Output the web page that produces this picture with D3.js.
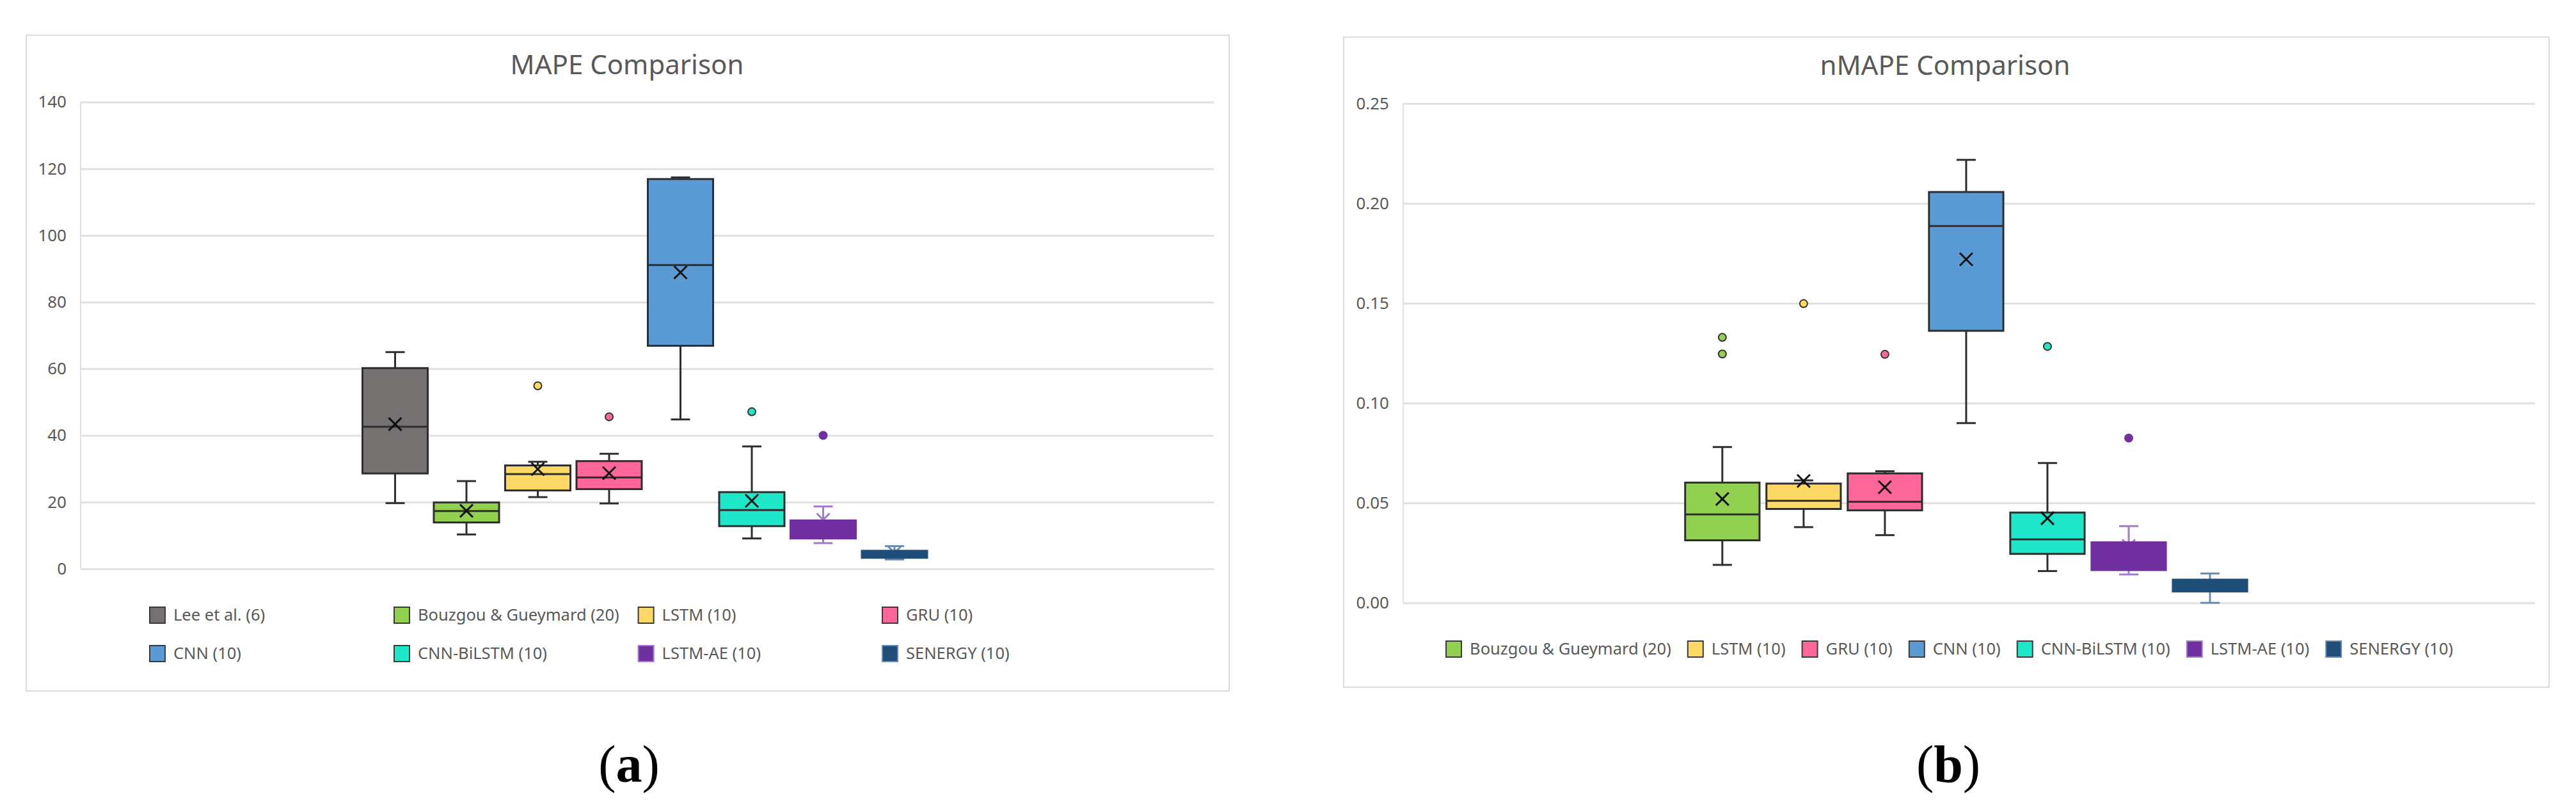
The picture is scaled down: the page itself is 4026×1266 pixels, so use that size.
<!DOCTYPE html>
<html><head><meta charset="utf-8">
<script src="https://cdn.jsdelivr.net/npm/d3@7"></script>
<style>
body{margin:0;background:#fff;}
svg{display:block;font-family:"Noto Sans",sans-serif;}
</style>
</head><body>
<svg id="chart" width="4026" height="1266"></svg>
<script>
// ---------------- DATA ----------------
const mapeSeries = ["Lee et al. (6)", "Bouzgou & Gueymard (20)", "LSTM (10)", "GRU (10)", "CNN (10)", "CNN-BiLSTM (10)", "LSTM-AE (10)", "SENERGY (10)"];
const mapeMin    = [19.7, 10.3, 21.5, 19.6, 44.8,  9.1,  7.7, 2.8];
const mapeQ1     = [28.6, 13.9, 23.5, 23.9, 66.9, 12.8,  9.1, 3.3];
const mapeMedian = [42.6, 17.3, 28.4, 27.4, 91.1, 17.6, 12.0, 4.4];
const mapeQ3     = [60.2, 19.9, 31.0, 32.3, 116.9, 23.0, 14.5, 5.4];
const mapeMax    = [65.0, 26.3, 32.1, 34.5, 117.4, 36.7, 18.7, 6.8];
const mapeMean   = [43.4, 17.4, 29.9, 28.7, 88.9, 20.4, 14.7, 4.8];
const mapeOutliers = [[], [], [54.9], [45.6], [], [47.1], [40.0], []];
const mapeTicks  = [0, 20, 40, 60, 80, 100, 120, 140];

const nmapeSeries = ["Bouzgou & Gueymard (20)", "LSTM (10)", "GRU (10)", "CNN (10)", "CNN-BiLSTM (10)", "LSTM-AE (10)", "SENERGY (10)"];
const nmapeMin    = [0.0190, 0.0379, 0.0339, 0.0900, 0.0159, 0.0142, 0.0000];
const nmapeQ1     = [0.0313, 0.0470, 0.0463, 0.1362, 0.0245, 0.0164, 0.0057];
const nmapeMedian = [0.0443, 0.0511, 0.0506, 0.1887, 0.0318, 0.0230, 0.0090];
const nmapeQ3     = [0.0602, 0.0597, 0.0648, 0.2057, 0.0452, 0.0303, 0.0116];
const nmapeMax    = [0.0780, 0.0613, 0.0659, 0.2218, 0.0700, 0.0384, 0.0147];
const nmapeMean   = [0.0520, 0.0610, 0.0579, 0.1720, 0.0423, 0.0285, 0.0087];
const nmapeOutliers = [[0.1329, 0.1246], [0.1498], [0.1244], [], [0.1284], [0.0825], []];
const nmapeTicks  = [0, 0.05, 0.10, 0.15, 0.20, 0.25];

// ---------------- STYLES ----------------
const fillColor = {
  "Lee et al. (6)": "#767171",
  "Bouzgou & Gueymard (20)": "#92d050",
  "LSTM (10)": "#ffd966",
  "GRU (10)": "#ff6699",
  "CNN (10)": "#5b9bd5",
  "CNN-BiLSTM (10)": "#1ee6c9",
  "LSTM-AE (10)": "#7030a0",
  "SENERGY (10)": "#1f4e79"
};
const boxStroke = { "LSTM-AE (10)": "#7030a0", "SENERGY (10)": "#1f4e79" };
const lineStroke = { "LSTM-AE (10)": "#a47ccf", "SENERGY (10)": "#6a8cb4" };
const DARK = "#2e2e2e";
const GRID = "#e0e0e0";
const TEXT = "#595959";

const svg = d3.select("#chart");

function drawPanel(cfg) {
  const g = svg.append("g");
  g.append("rect").attr("x", cfg.frame[0]).attr("y", cfg.frame[1])
    .attr("width", cfg.frame[2] - cfg.frame[0]).attr("height", cfg.frame[3] - cfg.frame[1])
    .attr("fill", "#fff").attr("stroke", "#dcdcdc").attr("stroke-width", 2);

  g.append("text").attr("x", cfg.titleX).attr("y", cfg.titleY)
    .attr("text-anchor", "middle").attr("font-size", 42).attr("fill", TEXT).text(cfg.title);

  const y = d3.scaleLinear().domain([cfg.ticks[0], cfg.ticks[cfg.ticks.length - 1]])
    .range([cfg.plotBottom, cfg.plotTop]);
  const plotW = cfg.plotRight - cfg.plotLeft;

  const axis = d3.axisLeft(y).tickValues(cfg.ticks).tickSize(-plotW).tickPadding(22)
    .tickFormat(cfg.fmt);
  const ag = g.append("g").attr("transform", `translate(${cfg.plotLeft},0)`).call(axis);
  ag.select(".domain").remove();
  ag.selectAll(".tick line").attr("stroke", GRID).attr("stroke-width", 3);
  ag.selectAll(".tick text").attr("fill", TEXT).attr("font-size", 26)
    .attr("font-family", "'Noto Sans', sans-serif");
  g.append("line").attr("x1", cfg.plotLeft).attr("x2", cfg.plotLeft)
    .attr("y1", cfg.plotTop).attr("y2", cfg.plotBottom).attr("stroke", GRID).attr("stroke-width", 2);

  const x = d3.scaleBand().domain(cfg.series).range(cfg.groupRange)
    .paddingInner(0.085).paddingOuter(0.0425);
  const bw = x.bandwidth();
  const capW = 30;

  const rows = cfg.series.map((s, i) => ({
    s, min: cfg.min[i], q1: cfg.q1[i], med: cfg.median[i], q3: cfg.q3[i],
    max: cfg.max[i], mean: cfg.mean[i], out: cfg.outliers[i]
  }));

  const bg = g.selectAll(".bx").data(rows).enter().append("g").attr("class", "bx");
  const cx = d => x(d.s) + bw / 2;
  const lc = d => lineStroke[d.s] || DARK;
  const bc = d => boxStroke[d.s] || DARK;
  const m = 10;
  const xPath = d => {
    const X = cx(d), Y = y(d.mean);
    return `M${X - m},${Y - m}L${X + m},${Y + m}M${X - m},${Y + m}L${X + m},${Y - m}`;
  };

  // whiskers
  bg.append("line").attr("x1", cx).attr("x2", cx).attr("y1", d => y(d.q3)).attr("y2", d => y(d.max))
    .attr("stroke", lc).attr("stroke-width", 3);
  bg.append("line").attr("x1", cx).attr("x2", cx).attr("y1", d => y(d.q1)).attr("y2", d => y(d.min))
    .attr("stroke", lc).attr("stroke-width", 3);
  bg.append("line").attr("x1", d => cx(d) - capW / 2).attr("x2", d => cx(d) + capW / 2)
    .attr("y1", d => y(d.max)).attr("y2", d => y(d.max)).attr("stroke", lc).attr("stroke-width", 3);
  bg.append("line").attr("x1", d => cx(d) - capW / 2).attr("x2", d => cx(d) + capW / 2)
    .attr("y1", d => y(d.min)).attr("y2", d => y(d.min)).attr("stroke", lc).attr("stroke-width", 3);

  // mean markers that sit behind solid boxes (light-whisker series)
  bg.filter(d => lineStroke[d.s]).append("path").attr("d", xPath)
    .attr("stroke", lc).attr("stroke-width", 3).attr("fill", "none");

  // box
  bg.append("rect").attr("x", d => x(d.s)).attr("width", bw)
    .attr("y", d => y(d.q3)).attr("height", d => y(d.q1) - y(d.q3))
    .attr("fill", d => fillColor[d.s]).attr("stroke", bc).attr("stroke-width", 3);
  // median
  bg.append("line").attr("x1", d => x(d.s)).attr("x2", d => x(d.s) + bw)
    .attr("y1", d => y(d.med)).attr("y2", d => y(d.med)).attr("stroke", bc).attr("stroke-width", 3);
  // mean X on top
  bg.filter(d => !lineStroke[d.s]).append("path").attr("d", xPath)
    .attr("stroke", "#111").attr("stroke-width", 3).attr("fill", "none");
  // outliers
  bg.each(function (d) {
    d3.select(this).selectAll("circle").data(d.out).enter().append("circle")
      .attr("cx", cx(d)).attr("cy", v => y(v)).attr("r", lineStroke[d.s] ? 7 : 6)
      .attr("fill", fillColor[d.s])
      .attr("stroke", lineStroke[d.s] ? "none" : "#333").attr("stroke-width", 2);
  });

  // legend
  const lg = g.append("g");
  const items = lg.selectAll(".li").data(cfg.series).enter().append("g").attr("class", "li");
  items.append("rect").attr("x", 0).attr("y", -12).attr("width", 24).attr("height", 25)
    .attr("fill", s => fillColor[s]).attr("stroke", s => lineStroke[s] || "#3a3a3a").attr("stroke-width", 2);
  items.append("text").attr("x", 37).attr("y", 9).attr("font-size", 25.5).attr("fill", TEXT).text(s => s);
  cfg.legendLayout(items);

  // caption
  const cap = svg.append("text").attr("x", cfg.capX).attr("y", 1222).attr("text-anchor", "middle")
    .attr("font-family", "'Liberation Serif', 'Times New Roman', serif").attr("font-size", 82).attr("fill", "#000");
  cap.append("tspan").text("(");
  cap.append("tspan").attr("font-weight", "bold").text(cfg.capLetter);
  cap.append("tspan").text(")");
}

drawPanel({
  title: "MAPE Comparison", titleX: 980, titleY: 116,
  frame: [41, 55, 1921, 1080],
  plotLeft: 126, plotRight: 1897, plotTop: 159.5, plotBottom: 889,
  groupRange: [561.75, 1453.75],
  ticks: mapeTicks, fmt: d3.format("d"),
  series: mapeSeries, min: mapeMin, q1: mapeQ1, median: mapeMedian, q3: mapeQ3,
  max: mapeMax, mean: mapeMean, outliers: mapeOutliers,
  legendLayout: items => {
    const colX = [234, 616, 997.6, 1379], rowY = [961, 1021];
    items.attr("transform", (s, i) => `translate(${colX[i % 4]},${rowY[Math.floor(i / 4)]})`);
  },
  capX: 983, capLetter: "a"
});

drawPanel({
  title: "nMAPE Comparison", titleX: 3040, titleY: 117,
  frame: [2100, 58, 3984, 1074],
  plotLeft: 2193, plotRight: 3962, plotTop: 161.8, plotBottom: 942.2,
  groupRange: [2628.3, 3517.5],
  ticks: nmapeTicks, fmt: d3.format(".2f"),
  series: nmapeSeries, min: nmapeMin, q1: nmapeQ1, median: nmapeMedian, q3: nmapeQ3,
  max: nmapeMax, mean: nmapeMean, outliers: nmapeOutliers,
  legendLayout: items => {
    const widths = [];
    items.each(function () { widths.push(37 + d3.select(this).select("text").node().getComputedTextLength()); });
    const gap = 26;
    const total = d3.sum(widths) + gap * (widths.length - 1);
    let cur = 3047 - total / 2;
    const xs = widths.map(w => { const v = cur; cur += w + gap; return v; });
    items.attr("transform", (s, i) => `translate(${xs[i]},1014)`);
  },
  capX: 3045, capLetter: "b"
});
</script>
</body></html>
